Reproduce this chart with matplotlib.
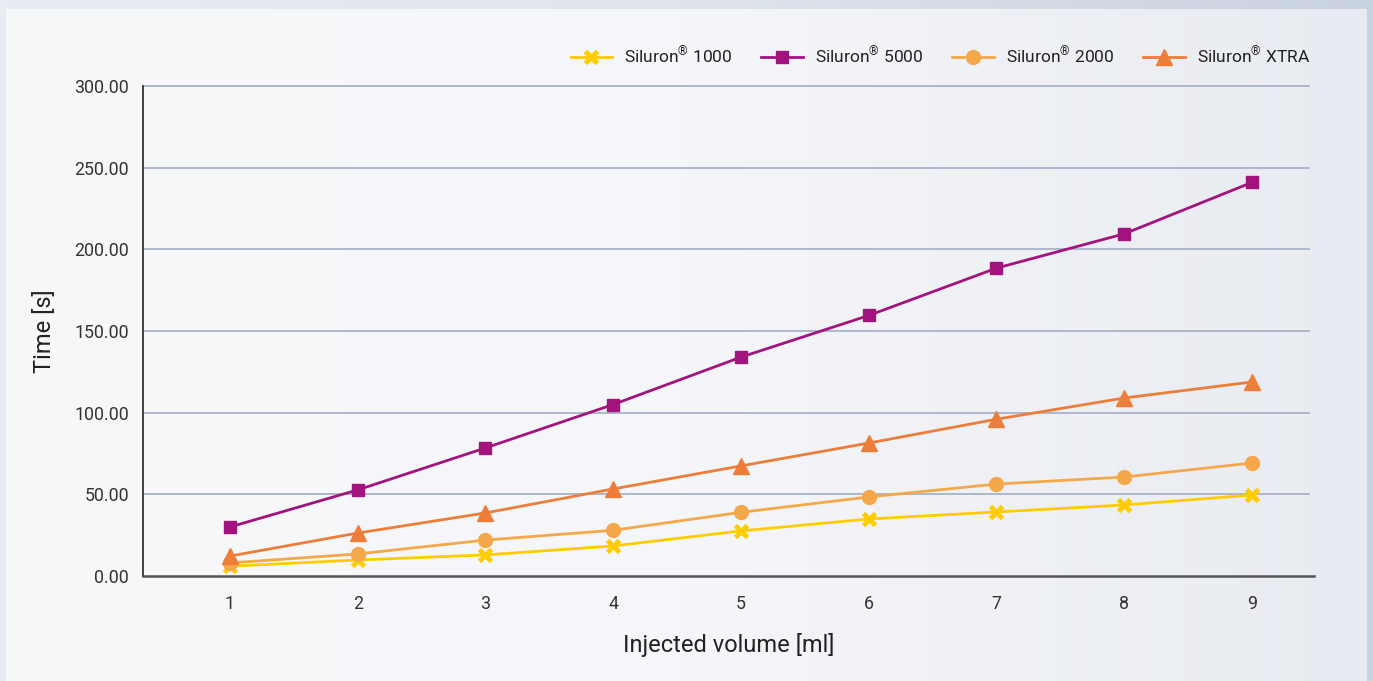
import numpy as np
import matplotlib
matplotlib.use("Agg")
import matplotlib.pyplot as plt
from matplotlib.colors import LinearSegmentedColormap

plt.rcParams['font.family'] = ['Roboto', 'DejaVu Sans']
plt.rcParams['mathtext.fontset'] = 'custom'
plt.rcParams['mathtext.rm'] = 'Roboto'

volumes = [1, 2, 3, 4, 5, 6, 7, 8, 9]
siluron_1000 = [6.0, 9.8, 12.9, 18.4, 27.6, 34.9, 39.2, 43.5, 49.6]
siluron_5000 = [30.0, 52.7, 78.4, 105.0, 134.0, 159.5, 188.5, 209.5, 241.0]
siluron_2000 = [8.0, 13.5, 22.0, 28.0, 39.0, 48.4, 56.3, 60.6, 69.2]
siluron_xtra = [12.2, 26.3, 38.6, 53.3, 67.4, 81.4, 96.0, 109.0, 118.8]
y_ticks = [0, 50, 100, 150, 200, 250, 300]
names = [r"Siluron$^{\mathrm{®}}$ 1000", r"Siluron$^{\mathrm{®}}$ 5000",
         r"Siluron$^{\mathrm{®}}$ 2000", r"Siluron$^{\mathrm{®}}$ XTRA"]

W, H = 1373, 681
fig = plt.figure(figsize=(W / 100, H / 100), dpi=100)

# background: border + gradient panel
bg = fig.add_axes([0, 0, 1, 1], zorder=-10)
bg.set_xlim(0, W)
bg.set_ylim(H, 0)
bg.axis('off')
border = LinearSegmentedColormap.from_list('b', ['#e9edf3', '#dfe4ec', '#c9d2e0'])
bg.imshow(np.linspace(0, 1, 256)[None, :], cmap=border, aspect='auto', extent=[0, W, H, 0])
panel = LinearSegmentedColormap.from_list('p', ['#f7f8fa', '#f5f6f9', '#e8ebf1'])
bg.imshow(np.linspace(0, 1, 256)[None, :], cmap=panel, aspect='auto', extent=[6, 1367, H, 9])

ax = fig.add_axes([143 / W, 1 - 576 / H, (1314 - 143) / W, (576 - 86) / H])
ax.patch.set_alpha(0)

series = [
    (names[0], siluron_1000, '#FFCC00', 'x', 8),
    (names[1], siluron_5000, '#A3137E', 's', 8),
    (names[2], siluron_2000, '#F5A84A', 'o', 10),
    (names[3], siluron_xtra, '#EE7D3A', '^', 12),
]
handles = []
for name, vals, col, mk, ms in series:
    mew = 3.5 if mk == 'x' else 1
    h, = ax.plot(volumes, vals, color=col, marker=mk, markersize=ms, linewidth=2,
                 markeredgewidth=mew, markeredgecolor=col, label=name, zorder=3)
    handles.append(h)

ax.set_xlim(0.32, 9.485)
ax.set_ylim(0, 300)
ax.set_yticks(y_ticks)
ax.set_yticklabels([f"{v:.2f}" for v in y_ticks])
ax.set_xticks(volumes)
ax.set_xticklabels([str(v) for v in volumes])

for y in y_ticks[1:]:
    ax.plot([0.32, 9.445], [y, y], color='#a3adc4', linewidth=1.2, zorder=1, clip_on=False)

for s in ['top', 'right']:
    ax.spines[s].set_visible(False)
ax.spines['left'].set_color('#333333')
ax.spines['left'].set_linewidth(1.3)
ax.spines['bottom'].set_color('#555555')
ax.spines['bottom'].set_linewidth(1.8)

ax.tick_params(axis='both', length=0, labelsize=12.8, colors='#333333')
ax.tick_params(axis='y', pad=10)
ax.tick_params(axis='x', pad=14)

ax.set_ylabel("Time [s]", fontsize=17, color='#222222')
ax.yaxis.set_label_coords((56 - 143) / (1314 - 143), 0.5)
ax.set_xlabel("Injected volume [ml]", fontsize=17, color='#222222', labelpad=14)

leg = fig.legend(handles=handles, loc='upper right', bbox_to_anchor=(1326 / W, 1 - 29 / H),
                 ncol=4, frameon=False, fontsize=12.5, handlelength=2.4, columnspacing=1.65,
                 handletextpad=0.7)
for t in leg.get_texts():
    t.set_color('#222222')

fig.savefig("out.png", dpi=100)
